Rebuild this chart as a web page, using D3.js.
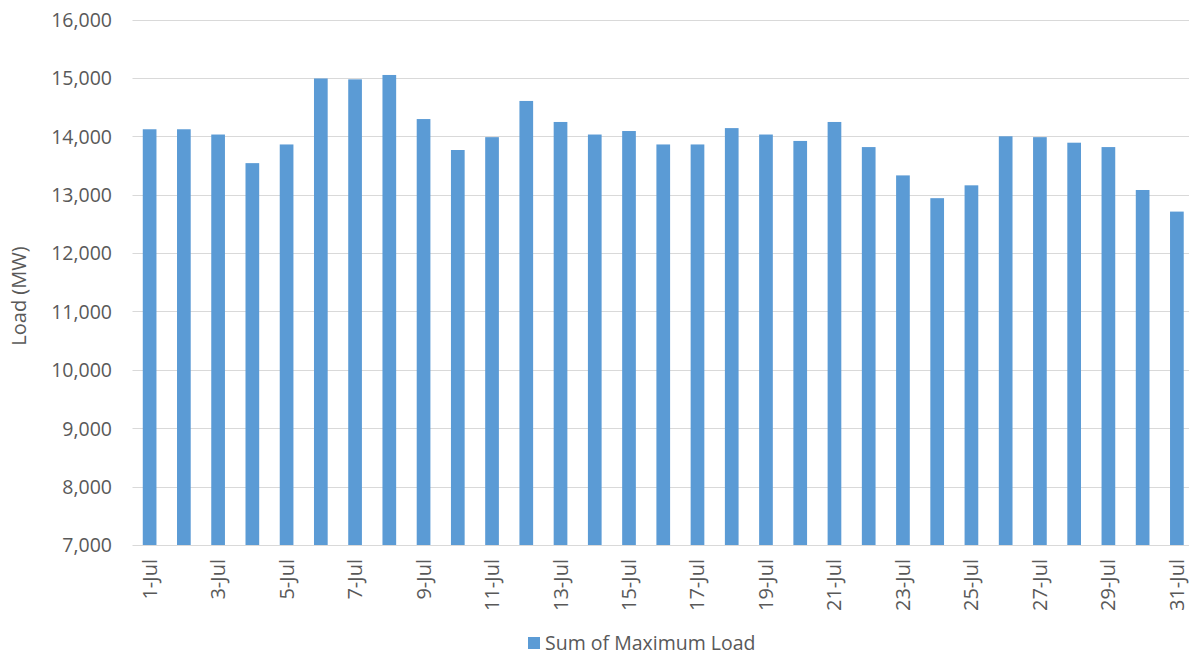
<!DOCTYPE html>
<html>
<head>
<meta charset="utf-8">
<script src="https://cdn.jsdelivr.net/npm/d3@7"></script>
<style>
  body { margin: 0; background: #fff; }
  svg text { font-family: "Open Sans", sans-serif; fill: #595959; }
</style>
</head>
<body>
<svg id="chart" width="1189" height="656"></svg>
<script>
"use strict";

let days = [];
for (let d = 1; d <= 31; d++) days.push(d + "-Jul");

let maxLoad = [
  14120, 14120, 14030, 13540, 13860, 14990, 14975, 15050, 14295, 13765,
  13985, 14605, 14245, 14030, 14090, 13860, 13860, 14140, 14030, 13920,
  14245, 13815, 13330, 12940, 13160, 14000, 13985, 13890, 13815, 13080,
  12710
];

let yTicks = [7000, 8000, 9000, 10000, 11000, 12000, 13000, 14000, 15000, 16000];
let seriesName = "Sum of Maximum Load";

function drawChart() {
  let svg = d3.select("#chart");
  let left = 132.5, right = 1194, top = 19.5, bottom = 545;

  let x = d3.scaleBand().domain(days).range([left, right]).paddingInner(0.6).paddingOuter(0.3);
  let y = d3.scaleLinear().domain([7000, 16000]).range([bottom, top]);

  // gridlines
  svg.append("g").selectAll("line").data(yTicks).enter()
    .append("line")
    .attr("x1", left).attr("x2", 1189)
    .attr("y1", d => Math.round(y(d)) + 0.5)
    .attr("y2", d => Math.round(y(d)) + 0.5)
    .style("stroke", "#d9d9d9")
    .style("stroke-width", 1);

  // bars
  svg.append("g").selectAll("rect").data(maxLoad).enter()
    .append("rect")
    .attr("x", (d, i) => x(days[i]))
    .attr("width", x.bandwidth())
    .attr("y", d => y(d))
    .attr("height", d => bottom - y(d))
    .style("fill", "#5b9bd5");

  // y axis
  let yAxis = d3.axisLeft(y).tickValues(yTicks).tickSize(0).tickPadding(0).tickFormat(d3.format(","));
  let yg = svg.append("g").attr("transform", "translate(112,0)").call(yAxis);
  yg.select(".domain").remove();
  yg.selectAll("text").style("font-size", "19.5px").attr("dy", "0.35em");

  // x axis
  let xAxis = d3.axisBottom(x).tickSize(0).tickFormat((d, i) => i % 2 == 0 ? d : "");
  let xg = svg.append("g").attr("transform", "translate(0," + bottom + ")").call(xAxis);
  xg.select(".domain").remove();
  xg.selectAll("text")
    .style("font-size", "20px")
    .attr("text-anchor", "end")
    .attr("transform", "rotate(-90)")
    .attr("x", -14)
    .attr("y", 0)
    .attr("dy", "0.35em");

  // axis title
  svg.append("text")
    .attr("transform", "translate(26,296) rotate(-90)")
    .attr("text-anchor", "middle")
    .style("font-size", "20px")
    .text("Load (MW)");

  // legend
  let lg = svg.append("g").attr("transform", "translate(528,637)");
  lg.append("rect").attr("width", 12).attr("height", 12).style("fill", "#5b9bd5");
  lg.append("text").attr("x", 17).attr("y", 13).style("font-size", "19.5px").text(seriesName);
}

drawChart();
</script>
</body>
</html>
